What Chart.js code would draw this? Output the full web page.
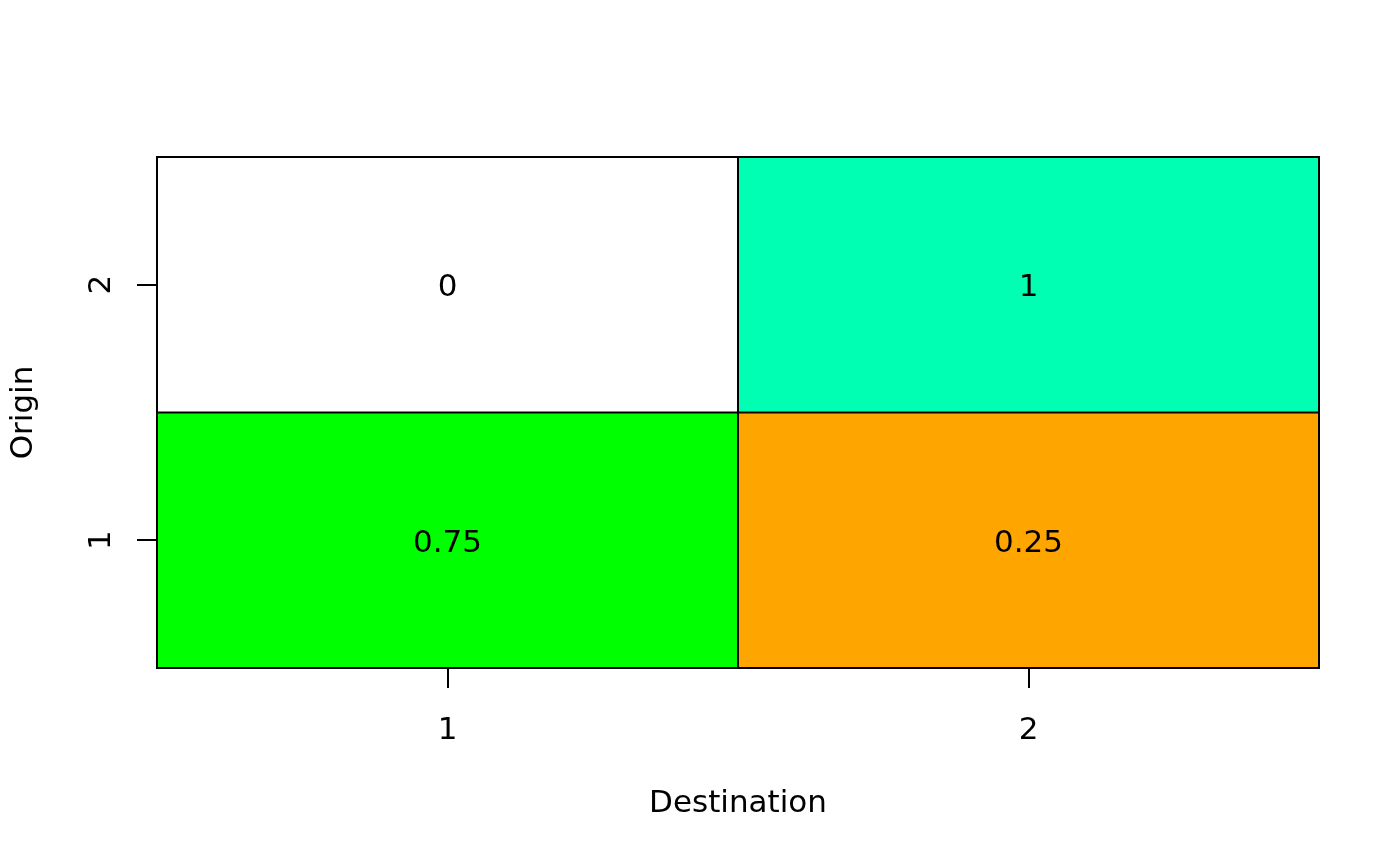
<!DOCTYPE html>
<html>
<head>
<meta charset="utf-8">
<script src="https://cdn.jsdelivr.net/npm/chart.js@4.4.1/dist/chart.umd.min.js"></script>
<style>
  body { margin: 0; background: #ffffff; }
  #matrix-chart { display: block; }
</style>
</head>
<body>
<canvas id="matrix-chart" width="1400" height="865"></canvas>
<script>
// transition matrix: rows = origin, columns = destination
var destinations = ['1', '2'];
var origins = [1, 2];
var originTicks = [1, 2];
var origin1Probs = [0.75, 0.25];
var origin2Probs = [0, 1];

// cell colours
var origin1Colors = ['#00FF00', '#FFA500'];
var origin2Colors = ['#FFFFFF', '#00FFB2'];

var FONT = { family: 'DejaVu Sans', size: 31 };

// write the value in the middle of each cell (digits centred on the cell)
var cellLabels = {
    id: 'cellLabels',
    afterDatasetsDraw: function (chart) {
        var ctx = chart.ctx;
        ctx.save();
        ctx.fillStyle = '#000000';
        ctx.font = FONT.size + 'px "' + FONT.family + '"';
        ctx.textAlign = 'center';
        ctx.textBaseline = 'alphabetic';
        chart.data.datasets.forEach(function (ds, i) {
            var meta = chart.getDatasetMeta(i);
            meta.data.forEach(function (bar, j) {
                var mid = (bar.y + bar.base) / 2;
                ctx.fillText(String(ds.values[j]), bar.x, mid + FONT.size * 0.365);
            });
        });
        ctx.restore();
    }
};

// black frame and cell dividers
var plotBox = {
    id: 'plotBox',
    afterDatasetsDraw: function (chart) {
        var a = chart.chartArea;
        var ctx = chart.ctx;
        var first = chart.getDatasetMeta(0).data[0];
        var xDiv = first.x + first.width / 2;
        var yDiv = chart.scales.y.getPixelForValue((origins[0] + origins[1]) / 2);
        ctx.save();
        ctx.strokeStyle = '#000000';
        ctx.lineWidth = 2;
        ctx.beginPath();
        ctx.moveTo(xDiv, a.top);
        ctx.lineTo(xDiv, a.bottom);
        ctx.moveTo(a.left, yDiv);
        ctx.lineTo(a.right, yDiv);
        ctx.stroke();
        ctx.strokeRect(a.left, a.top, a.right - a.left, a.bottom - a.top);
        ctx.restore();
    }
};

var ctx = document.getElementById('matrix-chart').getContext('2d');

new Chart(ctx, {
    type: 'bar',
    data: {
        labels: destinations,
        datasets: [
            {
                label: 'Origin ' + origins[0],
                values: origin1Probs,
                data: origin1Probs.map(function () { return [origins[0] - 0.5, origins[0] + 0.5]; }),
                backgroundColor: origin1Colors
            },
            {
                label: 'Origin ' + origins[1],
                values: origin2Probs,
                data: origin2Probs.map(function () { return [origins[1] - 0.5, origins[1] + 0.5]; }),
                backgroundColor: origin2Colors
            }
        ]
    },
    options: {
        responsive: false,
        animation: false,
        layout: { padding: { top: 157, right: 81, left: 0, bottom: 0 } },
        datasets: {
            bar: {
                grouped: false,
                barPercentage: 1,
                categoryPercentage: 1,
                borderWidth: 0,
                borderSkipped: false
            }
        },
        plugins: {
            legend: { display: false },
            tooltip: { enabled: false }
        },
        scales: {
            x: {
                type: 'category',
                offset: true,
                grid: {
                    offset: false,
                    drawOnChartArea: false,
                    tickLength: 20,
                    lineWidth: 2,
                    tickColor: '#000000'
                },
                border: { display: false },
                ticks: { color: '#000000', font: FONT, padding: 24, maxRotation: 0 },
                title: {
                    display: true,
                    text: 'Destination',
                    color: '#000000',
                    font: FONT,
                    padding: { top: 0, bottom: 42 }
                },
                afterFit: function (scale) { scale.height = 197; }
            },
            y: {
                type: 'linear',
                min: 0.5,
                max: 2.5,
                afterBuildTicks: function (scale) {
                    scale.ticks = originTicks.map(function (v) { return { value: v }; });
                },
                grid: {
                    drawOnChartArea: false,
                    tickLength: 20,
                    lineWidth: 2,
                    tickColor: '#000000'
                },
                border: { display: false },
                ticks: {
                    color: '#000000',
                    font: FONT,
                    padding: 25,
                    minRotation: 90,
                    maxRotation: 90,
                    crossAlign: 'center'
                },
                title: {
                    display: true,
                    text: 'Origin',
                    color: '#000000',
                    font: FONT,
                    padding: { top: 5, bottom: 0 }
                },
                afterFit: function (scale) { scale.width = 157; }
            }
        }
    },
    plugins: [cellLabels, plotBox]
});
</script>
</body>
</html>
